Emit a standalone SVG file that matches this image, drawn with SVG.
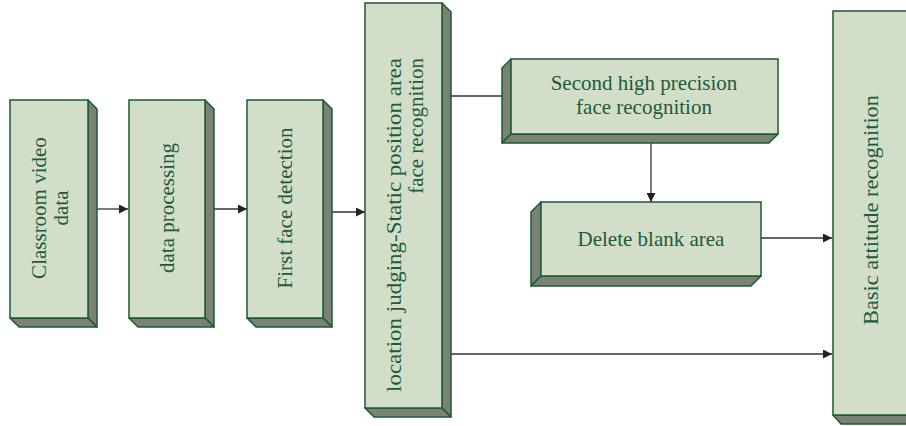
<svg xmlns="http://www.w3.org/2000/svg" width="906" height="426" viewBox="0 0 906 426">
<defs>
<style>
.face{fill:#d3dec8;stroke:#1e5a36;stroke-width:1.5}
.shade{fill:#7a8274;stroke:#1e5a36;stroke-width:1.5;stroke-linejoin:round}
.t{font-family:"Liberation Serif","Times New Roman",serif;font-size:21px;fill:#1d5b3b;text-anchor:middle}
.c{stroke:#333;stroke-width:1.3;fill:none}
</style>
<marker id="ah" viewBox="0 0 10 10" refX="10" refY="5" markerWidth="9" markerHeight="9" markerUnits="userSpaceOnUse" orient="auto">
<path d="M0,0 L10,5 L0,10 Z" fill="#222"/>
</marker>
</defs>
<rect width="906" height="426" fill="#fff"/>
<g id="connectors">
<line class="c" x1="97" y1="209" x2="128" y2="209" marker-end="url(#ah)"/>
<line class="c" x1="214" y1="209" x2="247" y2="209" marker-end="url(#ah)"/>
<line class="c" x1="332" y1="212" x2="365" y2="212" marker-end="url(#ah)"/>
<line class="c" x1="451" y1="96" x2="502" y2="96"/>
<line class="c" x1="651" y1="143" x2="651" y2="202" marker-end="url(#ah)"/>
<line class="c" x1="761" y1="238" x2="832" y2="238" marker-end="url(#ah)"/>
<line class="c" x1="451" y1="354" x2="832" y2="354" marker-end="url(#ah)"/>
</g>
<g id="n1">
<polygon class="shade" points="88,100 97,109 97,327 88,318"/>
<polygon class="shade" points="10,318 88,318 97,327 19,327"/>
<rect class="face" x="10" y="100" width="78" height="218"/>
<text class="t" transform="translate(49,208) rotate(-90)"><tspan x="0" y="-3">Classroom video</tspan><tspan x="0" y="19">data</tspan></text>
</g>
<g id="n2">
<polygon class="shade" points="205,100 214,109 214,327 205,318"/>
<polygon class="shade" points="129,318 205,318 214,327 138,327"/>
<rect class="face" x="129" y="100" width="76" height="218"/>
<text class="t" transform="translate(167,208) rotate(-90)" y="7">data processing</text>
</g>
<g id="n3">
<polygon class="shade" points="323,100 332,109 332,327 323,318"/>
<polygon class="shade" points="247,318 323,318 332,327 256,327"/>
<rect class="face" x="247" y="100" width="76" height="218"/>
<text class="t" transform="translate(285,208) rotate(-90)" y="7">First face detection</text>
</g>
<g id="n4">
<polygon class="shade" points="442,3 451,12 451,417 442,408"/>
<polygon class="shade" points="365,408 442,408 451,417 374,417"/>
<rect class="face" x="365" y="3" width="77" height="405"/>
<text class="t" transform="translate(404,225) rotate(-90)"><tspan x="0" y="-3" textLength="334" lengthAdjust="spacingAndGlyphs">location judging-Static position area</tspan><tspan x="167" y="19" text-anchor="end">face recognition</tspan></text>
</g>
<g id="n5">
<polygon class="shade" points="511,59 502,68 502,143 511,134"/>
<polygon class="shade" points="511,134 778,134 769,143 502,143"/>
<rect class="face" x="511" y="59" width="267" height="75"/>
<text class="t" x="644" y="90">Second high precision</text>
<text class="t" x="644" y="114">face recognition</text>
</g>
<g id="n6">
<polygon class="shade" points="541,202 531,212 531,286 541,276"/>
<polygon class="shade" points="541,276 761,276 751,286 531,286"/>
<rect class="face" x="541" y="202" width="220" height="74"/>
<text class="t" x="651" y="246">Delete blank area</text>
</g>
<g id="n7">
<polygon class="shade" points="833,415 910,415 919,424 841,424"/>
<rect class="face" x="833" y="11" width="80" height="404"/>
<text class="t" transform="translate(871,210) rotate(-90)" y="7" textLength="230" lengthAdjust="spacingAndGlyphs">Basic attitude recognition</text>
</g>
</svg>
